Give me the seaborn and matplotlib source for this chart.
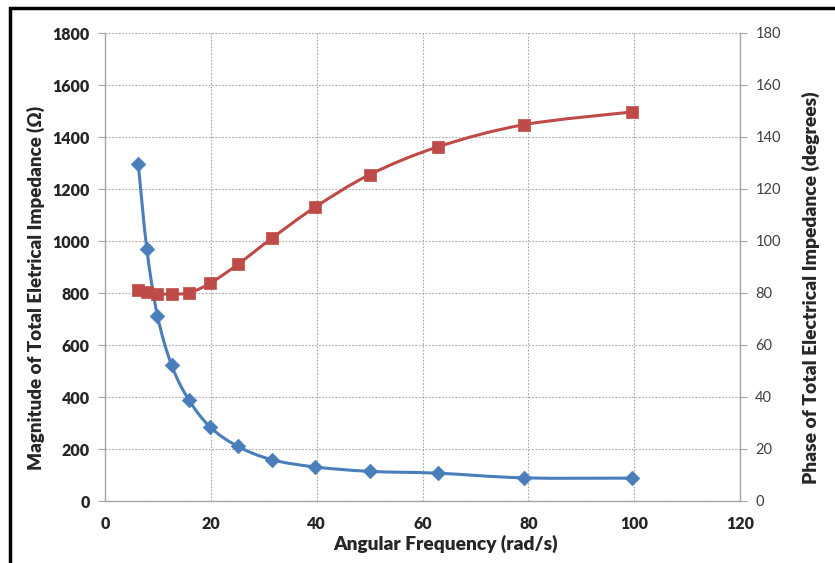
import numpy as np
import matplotlib
matplotlib.use("Agg")
import matplotlib.pyplot as plt
import seaborn as sns
from matplotlib.path import Path
from matplotlib.patches import PathPatch, Rectangle

# -------------------------------------------------------
# DATA
# -------------------------------------------------------
omega = [6.28, 7.9, 9.9, 12.6, 15.8, 19.9, 25.1, 31.5, 39.7, 50.0, 62.9, 79.1, 99.5]
magnitude = [1298, 970, 713, 522, 390, 284, 210, 159, 131, 114, 107, 89, 88]
phase = [81.2, 80.3, 79.6, 79.7, 80.0, 83.8, 91.0, 101.0, 113.0, 125.5, 136.2, 144.7, 149.6]

x_ticks = [0, 20, 40, 60, 80, 100, 120]
mag_ticks = [0, 200, 400, 600, 800, 1000, 1200, 1400, 1600, 1800]
phase_ticks = [0, 20, 40, 60, 80, 100, 120, 140, 160, 180]

BLUE = "#4A7EBB"
RED = "#BE4B48"
GRID = "#A6A6A6"

sns.set_style("white")
plt.rcParams["font.family"] = ["Lato", "DejaVu Sans"]


def smooth_path(xs, ys, k=1 / 6):
    # Catmull-Rom style bezier through the data points (Excel "smoothed line")
    pts = np.column_stack([xs, ys]).astype(float)
    n = len(pts)
    verts = [pts[0]]
    codes = [Path.MOVETO]
    for i in range(n - 1):
        p0 = pts[max(i - 1, 0)]
        p1 = pts[i]
        p2 = pts[i + 1]
        p3 = pts[min(i + 2, n - 1)]
        c1 = p1 + (p2 - p0) * k
        c2 = p2 - (p3 - p1) * k
        verts += [c1, c2, p2]
        codes += [Path.CURVE4] * 3
    return Path(verts, codes)


fig = plt.figure(figsize=(8.35, 5.63), dpi=100)
ax = fig.add_axes([105 / 835, 1 - 501 / 563, 635 / 835, 468 / 563])
ax2 = ax.twinx()

# magnitude curve
ax.add_patch(PathPatch(smooth_path(omega, magnitude), fill=False,
                       edgecolor=BLUE, lw=2.2, zorder=3))
sns.scatterplot(x=omega, y=magnitude, marker="D", s=55, color=BLUE,
                edgecolor=BLUE, linewidth=0.5, ax=ax, zorder=4)

# phase curve
ax2.add_patch(PathPatch(smooth_path(omega, phase), fill=False,
                        edgecolor=RED, lw=2.2, zorder=3))
sns.scatterplot(x=omega, y=phase, marker="s", s=75, color=RED,
                edgecolor=RED, linewidth=0.5, ax=ax2, zorder=4)

ax.set_xlim(0, 120)
ax.set_ylim(0, 1800)
ax2.set_ylim(0, 180)
ax.set_xticks(x_ticks)
ax.set_yticks(mag_ticks)
ax2.set_yticks(phase_ticks)

ax.grid(True, color=GRID, linestyle=(0, (1.5, 1.5)), lw=0.8)
ax.set_axisbelow(True)

for a in (ax, ax2):
    a.spines["top"].set_visible(False)
    for s in ("left", "bottom", "right"):
        a.spines[s].set_color(GRID)
        a.spines[s].set_linewidth(1.0)
ax.spines["right"].set_visible(False)
ax2.spines["left"].set_visible(False)
ax2.spines["bottom"].set_visible(False)

ax.tick_params(axis="both", direction="out", length=5, color=GRID,
               labelsize=11.5, pad=6)
ax2.tick_params(axis="y", direction="out", length=5, color=GRID,
                labelsize=10.5, labelcolor="#404040", pad=6)
for lbl in ax.get_xticklabels() + ax.get_yticklabels():
    lbl.set_fontweight("heavy")

ax.set_xlabel("Angular Frequency (rad/s)", fontsize=13.8, fontweight="heavy")
ax.set_ylabel("Magnitude of Total Eletrical Impedance (Ω)", fontsize=13.5,
              fontweight="heavy")
ax2.set_ylabel("Phase of Total Electrical Impedance (degrees)", fontsize=13.9,
               fontweight="heavy")

# Excel places the titles slightly off-centre
ax.xaxis.set_label_coords(0.537, -0.072)
ax.yaxis.set_label_coords(-0.094, 0.455)
ax2.yaxis.set_label_coords(1.097, 0.455)

# black frame around the chart area
fig.patches.append(Rectangle((10 / 835, -0.1), 1.2, 1 - 8 / 563 + 0.1,
                             transform=fig.transFigure, fill=False,
                             edgecolor="black", lw=2.5))

fig.savefig("out.png", dpi=100)
